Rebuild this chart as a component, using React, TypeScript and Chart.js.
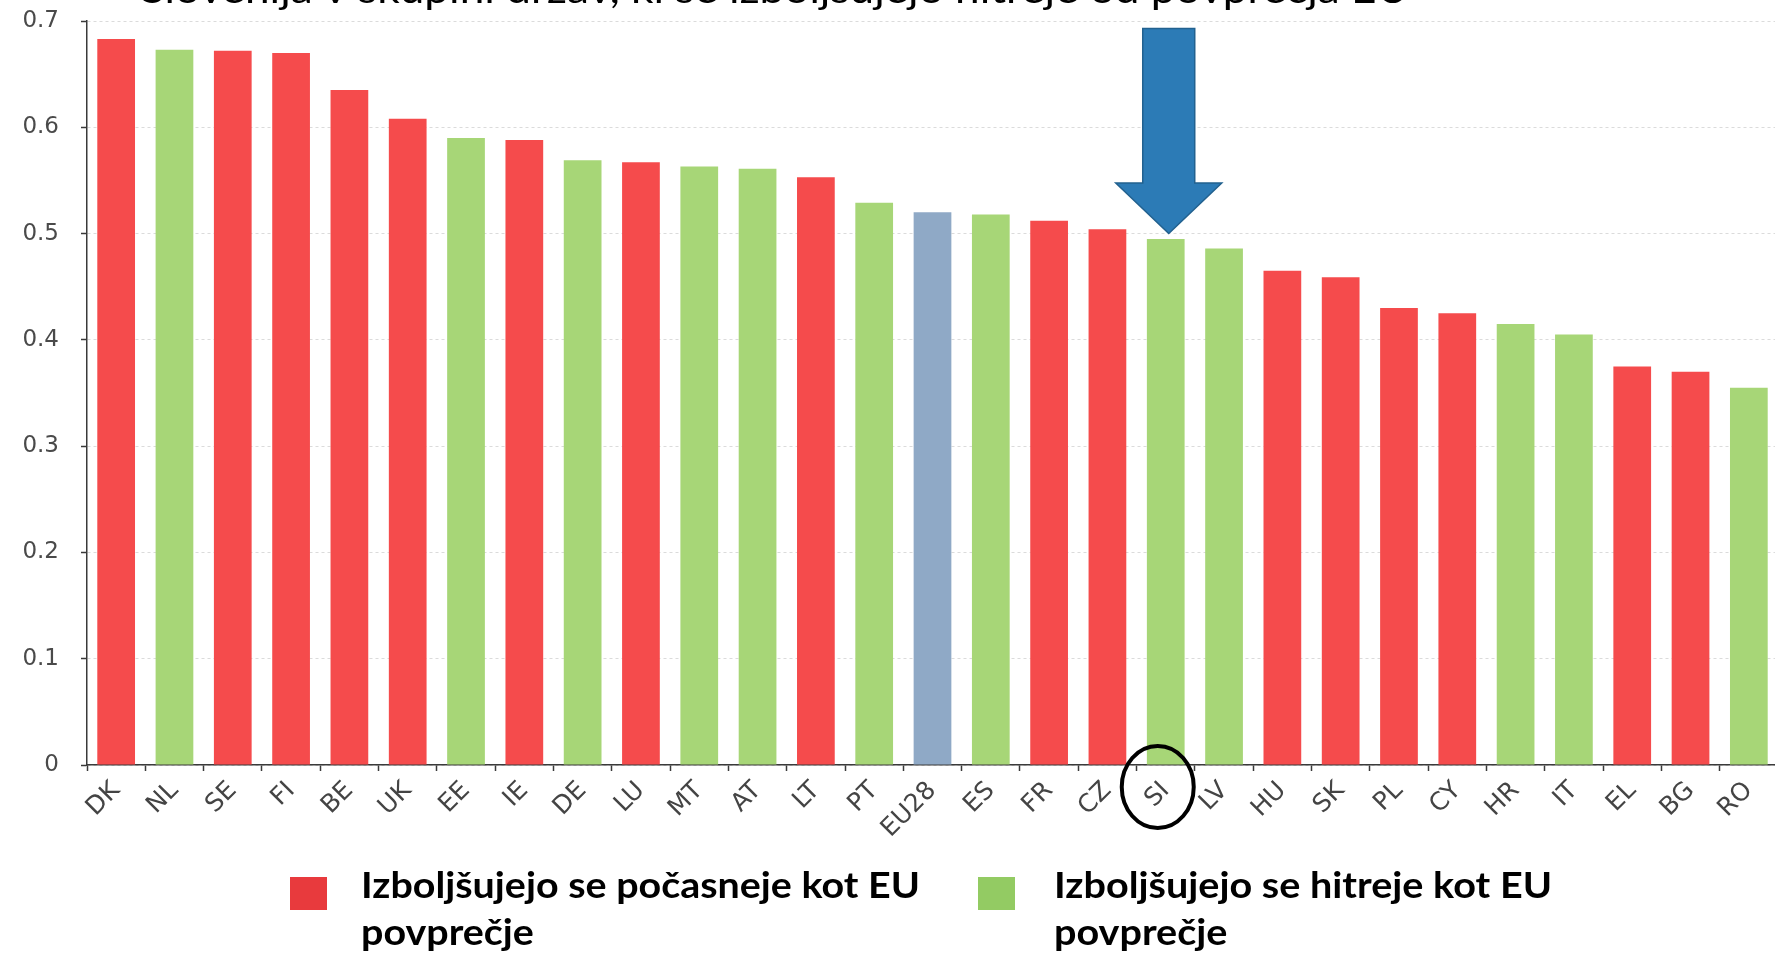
import React, { useEffect, useRef } from "react";
import { Chart, registerables } from "chart.js";

Chart.register(...registerables);

// ---- Data ----
const CATEGORIES = [
  "DK", "NL", "SE", "FI", "BE", "UK", "EE", "IE", "DE", "LU", "MT", "AT", "LT", "PT", "EU28",
  "ES", "FR", "CZ", "SI", "LV", "HU", "SK", "PL", "CY", "HR", "IT", "EL", "BG", "RO",
];
const VALUES = [
  0.683, 0.673, 0.672, 0.670, 0.635, 0.608, 0.590, 0.588, 0.569, 0.567, 0.563, 0.561, 0.553, 0.529, 0.520,
  0.518, 0.512, 0.504, 0.495, 0.486, 0.465, 0.459, 0.430, 0.425, 0.415, 0.405, 0.375, 0.370, 0.355,
];
// slow = improving slower than EU average, fast = faster, eu = EU average
const GROUPS = [
  "slow", "fast", "slow", "slow", "slow", "slow", "fast", "slow", "fast", "slow", "fast", "fast", "slow", "fast", "eu",
  "fast", "slow", "slow", "fast", "fast", "slow", "slow", "slow", "slow", "fast", "fast", "slow", "slow", "fast",
];
const Y_MIN = 0;
const Y_MAX = 0.7;
const Y_STEP = 0.1;

const TITLE = "Slovenija v skupini držav, ki se izboljšujejo hitreje od povprečja EU";
const LEGEND_SLOW = ["Izboljšujejo se počasneje kot EU", "povprečje"];
const LEGEND_FAST = ["Izboljšujejo se hitreje kot EU", "povprečje"];
const HIGHLIGHT = "SI";
// arrow annotation (value levels on the y axis)
const ARROW_TOP = 0.693;
const ARROW_HEAD_BASE = 0.5475;
const ARROW_TIP = 0.5;

// ---- Styles ----
const COLORS: Record<string, string> = { slow: "#F54B4C", fast: "#A7D677", eu: "#8FA9C6" };
const LEGEND_COLORS = { slow: "#E83A3D", fast: "#93CB63" };

function drawFitted(
  ctx: CanvasRenderingContext2D,
  text: string,
  x: number,
  y: number,
  font: string,
  scaleX: number
) {
  ctx.save();
  ctx.font = font;
  ctx.textBaseline = "alphabetic";
  ctx.textAlign = "left";
  ctx.translate(x, y);
  ctx.scale(scaleX, 1);
  ctx.fillText(text, 0, 0);
  ctx.restore();
}

function scaleFor(ctx: CanvasRenderingContext2D, text: string, font: string, target: number) {
  ctx.save();
  ctx.font = font;
  const w = ctx.measureText(text).width;
  ctx.restore();
  return w > 0 ? target / w : 1;
}

const overlayPlugin = {
  id: "overlay",
  beforeDraw(chart: any) {
    const ctx = chart.ctx as CanvasRenderingContext2D;
    ctx.save();
    ctx.fillStyle = "#ffffff";
    ctx.fillRect(0, 0, chart.width, chart.height);
    ctx.restore();
  },
  afterDraw(chart: any) {
    const ctx = chart.ctx as CanvasRenderingContext2D;
    const xs = chart.scales.x;
    const ys = chart.scales.y;
    const idx = CATEGORIES.indexOf(HIGHLIGHT);
    const cx = xs.getPixelForValue(idx);

    // Title (cropped at top)
    ctx.fillStyle = "#000";
    const titleFont = "38px Lato";
    drawFitted(ctx, TITLE, 141, 3, titleFont, scaleFor(ctx, TITLE, titleFont, 1268));

    // Arrow
    const ax = cx + 3;
    const topY = ys.getPixelForValue(ARROW_TOP);
    const baseY = ys.getPixelForValue(ARROW_HEAD_BASE);
    const tipY = ys.getPixelForValue(ARROW_TIP);
    ctx.save();
    ctx.beginPath();
    ctx.moveTo(ax - 26, topY);
    ctx.lineTo(ax + 26, topY);
    ctx.lineTo(ax + 26, baseY);
    ctx.lineTo(ax + 53, baseY);
    ctx.lineTo(ax, tipY);
    ctx.lineTo(ax - 53, baseY);
    ctx.lineTo(ax - 26, baseY);
    ctx.closePath();
    ctx.fillStyle = "#2C7BB6";
    ctx.fill();
    ctx.strokeStyle = "#22618F";
    ctx.lineWidth = 1.5;
    ctx.stroke();
    ctx.restore();

    // Circle around highlighted label
    ctx.save();
    ctx.beginPath();
    ctx.ellipse(cx - 8, ys.bottom + 22, 36, 41, 0, 0, Math.PI * 2);
    ctx.lineWidth = 4;
    ctx.strokeStyle = "#000";
    ctx.stroke();
    ctx.restore();

    // Legend
    const legFont = "bold 37px Lato";
    ctx.save();
    ctx.fillStyle = LEGEND_COLORS.slow;
    ctx.fillRect(290, 877, 37, 33);
    ctx.fillStyle = LEGEND_COLORS.fast;
    ctx.fillRect(978, 877, 37, 33);
    ctx.restore();
    ctx.fillStyle = "#000";
    const s1 = scaleFor(ctx, LEGEND_SLOW[0], legFont, 559);
    drawFitted(ctx, LEGEND_SLOW[0], 361, 898, legFont, s1);
    drawFitted(ctx, LEGEND_SLOW[1], 361, 945, legFont, s1);
    const s2 = scaleFor(ctx, LEGEND_FAST[0], legFont, 498);
    drawFitted(ctx, LEGEND_FAST[0], 1054, 898, legFont, s2);
    drawFitted(ctx, LEGEND_FAST[1], 1054, 945, legFont, s2);
  },
};

export default function App() {
  const ref = useRef<HTMLCanvasElement>(null);

  useEffect(() => {
    document.body.style.margin = "0";
    const canvas = ref.current;
    if (!canvas) return;
    const chart = new Chart(canvas, {
      type: "bar",
      data: {
        labels: CATEGORIES,
        datasets: [
          {
            data: VALUES,
            backgroundColor: GROUPS.map((g) => COLORS[g]),
            borderWidth: 0,
            categoryPercentage: 1,
            barPercentage: 0.647,
          },
        ],
      },
      options: {
        responsive: false,
        animation: false,
        devicePixelRatio: 1,
        layout: { padding: { top: 21, bottom: 91, left: 0, right: 2 } },
        plugins: {
          legend: { display: false },
          tooltip: { enabled: false },
          title: { display: false },
        },
        scales: {
          x: {
            offset: true,
            afterFit: (scale: any) => {
              scale.height = 100;
            },
            grid: {
              display: true,
              offset: true,
              drawOnChartArea: false,
              drawTicks: true,
              tickLength: 6,
              tickColor: "#3a3a3a",
              tickWidth: 1.5,
            },
            border: { display: true, color: "#3a3a3a", width: 1.5 },
            ticks: {
              autoSkip: false,
              minRotation: 45,
              maxRotation: 45,
              padding: 5,
              color: "#444444",
              font: { family: "DejaVu Sans", size: 25 },
            },
          },
          y: {
            min: Y_MIN,
            max: Y_MAX,
            afterFit: (scale: any) => {
              scale.width = 87;
              scale.paddingTop = 0;
              scale.paddingBottom = 0;
            },
            ticks: {
              stepSize: Y_STEP,
              padding: 22,
              color: "#4a4a4a",
              font: { family: "DejaVu Sans", size: 23 },
              callback: (v: any) => (Number(v) === 0 ? "0" : Number(v).toFixed(1)),
            },
            grid: {
              color: "rgba(0,0,0,0.14)",
              lineWidth: 1,
              drawTicks: true,
              tickLength: 6,
              tickColor: "#3a3a3a",
              tickWidth: 1.5,
            },
            border: { display: true, color: "#3a3a3a", width: 1.5, dash: [3, 3] },
          },
        },
      },
      plugins: [overlayPlugin],
    });
    return () => chart.destroy();
  }, []);

  return (
    <div
      style={{
        position: "fixed",
        left: 0,
        top: 0,
        width: 1775,
        height: 956,
        overflow: "hidden",
        background: "#fff",
      }}
    >
      <canvas ref={ref} width={1780} height={956} style={{ display: "block" }} />
    </div>
  );
}
